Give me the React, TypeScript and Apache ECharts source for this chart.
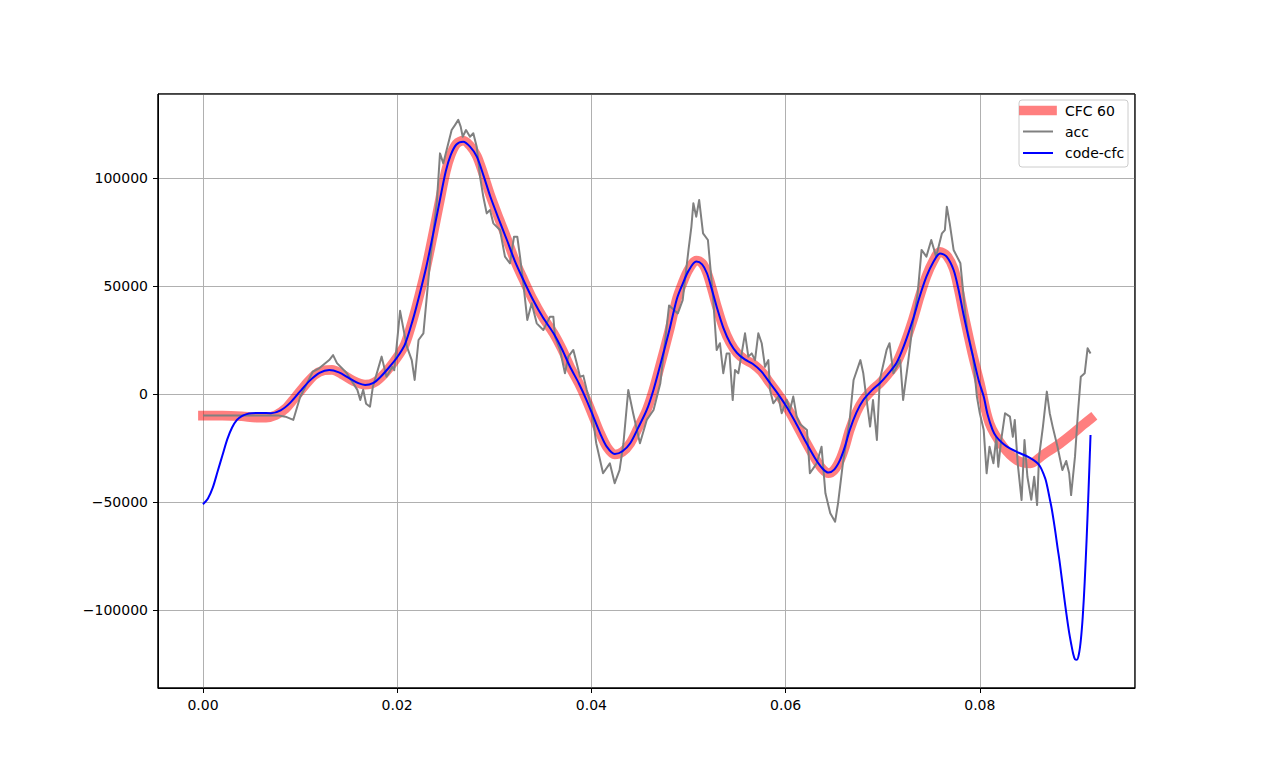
import React, { useEffect, useRef } from "react";
import * as echarts from "echarts";

const xTickFormat = (v: number) => v.toFixed(2);
const yTickFormat = (v: number) => (v < 0 ? "\u2212" + Math.abs(v) : String(v));

const seriesNames = ["CFC 60", "acc", "code-cfc"];

const cfcData: [number, number][] = [
  [0.0, -10000], [0.002, -10000], [0.004, -10300], [0.0055, -10900], [0.0065, -10900],
  [0.0075, -9800], [0.0085, -6800], [0.0095, -1500], [0.0105, 4000], [0.0115, 8800],
  [0.0125, 11000], [0.0133, 11200], [0.0143, 9200], [0.0155, 6000], [0.0167, 4300],
  [0.0177, 5500], [0.0188, 10000], [0.02, 17000], [0.0208, 23000], [0.0216, 34200],
  [0.0223, 46000], [0.023, 58900], [0.0237, 74000], [0.0244, 89800], [0.025, 103000],
  [0.0255, 110500], [0.0261, 115800], [0.0268, 117300], [0.0275, 115000], [0.0282, 110200],
  [0.0289, 101500], [0.0296, 91800], [0.0305, 81000], [0.0313, 71800], [0.0321, 62000],
  [0.033, 53000], [0.034, 43500], [0.035, 35500], [0.0361, 28100], [0.037, 20500],
  [0.0378, 12600], [0.0387, 5000], [0.0395, -2800], [0.0402, -10500], [0.0409, -18200],
  [0.0416, -24500], [0.0424, -28000], [0.0432, -26800], [0.044, -22800], [0.0448, -15800],
  [0.0457, -7400], [0.0464, 2000], [0.0471, 13500], [0.048, 29000], [0.0488, 44000],
  [0.0494, 51500], [0.05, 57500], [0.0508, 61800], [0.0514, 60500], [0.0519, 56300],
  [0.0524, 49000], [0.0529, 40800], [0.0536, 30800], [0.0543, 23700], [0.055, 19000],
  [0.0558, 16000], [0.0566, 14000], [0.0575, 10500], [0.0584, 5000], [0.0593, -500],
  [0.0601, -5900], [0.061, -13000], [0.062, -21500], [0.063, -29500], [0.0638, -34800],
  [0.0644, -36700], [0.065, -35200], [0.0656, -30600], [0.0661, -24500], [0.0666, -16700],
  [0.0673, -8500], [0.068, -2800], [0.0689, 1800], [0.0697, 5000], [0.0705, 9000],
  [0.0714, 14200], [0.0722, 22500], [0.0731, 34300], [0.0738, 45000], [0.0745, 54500],
  [0.0752, 61500], [0.0759, 65800], [0.0766, 64000], [0.0773, 58000], [0.0778, 49000],
  [0.0783, 38000], [0.0788, 27500], [0.0793, 17500], [0.08, 5000], [0.081, -13600],
  [0.0824, -24400], [0.0838, -30600], [0.0852, -32100], [0.0865, -28200], [0.0883, -22800],
  [0.0896, -18200], [0.0906, -14400], [0.0914, -11500],
];

const accData: [number, number][] = [
  [0.0, -10000], [0.004, -10000], [0.0078, -10000], [0.0085, -10500], [0.0093, -12000],
  [0.01, -1500], [0.0105, 3000], [0.0113, 10300], [0.012, 12000], [0.013, 15700],
  [0.0134, 18000], [0.0138, 14300], [0.0148, 9700], [0.0159, 1900], [0.0162, -2800],
  [0.0165, 2000], [0.0168, -4500], [0.0172, -5900], [0.0175, 3400], [0.0184, 17300],
  [0.0189, 8000], [0.0193, 11000], [0.0195, 12600], [0.0197, 11000], [0.0203, 38500],
  [0.0206, 31200], [0.021, 21900], [0.0215, 15700], [0.0218, 6500], [0.0222, 25000],
  [0.0227, 28100], [0.0234, 62000], [0.0241, 89800], [0.02441, 111400], [0.02475, 106800],
  [0.02526, 116000], [0.02561, 122200], [0.02595, 124500], [0.02629, 126900], [0.02654, 123800],
  [0.02675, 119100], [0.02709, 122200], [0.0275, 119100], [0.02784, 120700], [0.02819, 114500],
  [0.02853, 100600], [0.02887, 91300], [0.02922, 83600], [0.02956, 85200], [0.0299, 79000],
  [0.03059, 75900], [0.0311, 63600], [0.03162, 60500], [0.03203, 72800], [0.03237, 72800],
  [0.03265, 63600], [0.03299, 51200], [0.0334, 34300], [0.03385, 42000], [0.03437, 32700],
  [0.03505, 29600], [0.03574, 35800], [0.03608, 35800], [0.03625, 26500], [0.03677, 20400],
  [0.03728, 9600], [0.03762, 17300], [0.03814, 20400], [0.03849, 14200], [0.03883, 8000],
  [0.03917, 8500], [0.03952, 1900], [0.04, -5900], [0.0405, -22800],
  [0.0412, -36700], [0.0419, -32100], [0.0424, -41300], [0.0429, -35200], [0.0433, -22800],
  [0.0438, 1900], [0.0443, -8900], [0.045, -22800], [0.0457, -12000], [0.0464, -7400],
  [0.0471, 5000], [0.048, 41000], [0.0489, 37300], [0.0494, 43500], [0.05, 66700],
  [0.0503, 77500], [0.0505, 88300], [0.0508, 82100], [0.0511, 89800], [0.0515, 74400],
  [0.052, 71300], [0.05255, 43500], [0.0529, 20400], [0.05324, 23500], [0.05358, 9600],
  [0.05393, 18800], [0.05422, 18800], [0.05455, -2800], [0.05479, 11100], [0.05513, 9600],
  [0.0553, 14000], [0.05582, 28100], [0.05616, 17300], [0.05651, 18800], [0.05685, 15700],
  [0.05719, 28100], [0.05754, 23500], [0.05788, 12600], [0.05822, 15700], [0.0584, 1900],
  [0.05873, -4300], [0.05925, -1200], [0.0596, -8900], [0.06011, -2800], [0.06046, -7400],
  [0.06079, -1200], [0.06114, -10500], [0.0615, -14000], [0.0622, -16700], [0.0625, -36700],
  [0.0632, -32100], [0.0637, -24400], [0.0641, -46000], [0.0646, -55200], [0.0651, -59100],
  [0.0654, -50600], [0.0659, -32100], [0.0666, -12000], [0.067, 6500], [0.0677, 15700],
  [0.068, 9600], [0.0683, -1200], [0.0687, -15100], [0.069, -2800], [0.0694, -21300],
  [0.0697, 6500], [0.0704, 20400], [0.0707, 23500], [0.0711, 9600], [0.0718, 15700],
  [0.0721, -2800], [0.0726, 14200], [0.0731, 32700], [0.0736, 46600], [0.074, 66700],
  [0.0745, 63600], [0.075, 71300], [0.0755, 63600], [0.0761, 74400], [0.0764, 75900],
  [0.0766, 86700], [0.0769, 79000], [0.0773, 66700], [0.078, 60500], [0.0785, 37300],
  [0.0787, 30000], [0.0793, 17300], [0.0797, -1200], [0.08, -8900], [0.0804, -16700],
  [0.0807, -36700], [0.081, -24400], [0.0814, -32100], [0.0817, -19800], [0.0819, -33700],
  [0.0822, -21300], [0.0826, -8900], [0.0831, -10500], [0.0834, -19800], [0.0836, -12000],
  [0.0839, -32100], [0.0843, -49100], [0.0846, -21300], [0.0849, -38300], [0.0853, -49000],
  [0.0856, -38300], [0.0859, -51400], [0.0861, -29000], [0.0865, -15100], [0.0869, 1100],
  [0.0872, -8900], [0.0875, -15100], [0.088, -24400], [0.0885, -35200], [0.0889, -31000],
  [0.0892, -36700], [0.0894, -46800], [0.0898, -29000], [0.0901, -8900], [0.0904, 8000],
  [0.0908, 9600], [0.0911, 21200], [0.0914, 18800],
];

const codeCfcData: [number, number][] = [
  [0.0, -51000], [0.0005, -48500], [0.001, -43500], [0.0015, -36000], [0.002, -28500],
  [0.0025, -21000], [0.003, -15500], [0.0035, -12000], [0.004, -10200], [0.0045, -9300],
  [0.005, -8900], [0.006, -8800], [0.007, -8900], [0.008, -7600], [0.009, -4000],
  [0.01, 1200], [0.011, 6200], [0.012, 9800], [0.013, 11100], [0.014, 10000],
  [0.015, 7500], [0.016, 5000], [0.0167, 4200], [0.0175, 5000], [0.0183, 8000],
  [0.0192, 12500], [0.02, 17000], [0.0208, 23000], [0.0216, 34200], [0.0223, 46000],
  [0.023, 58900], [0.0237, 74000], [0.0244, 89800], [0.025, 103000], [0.0255, 110500],
  [0.0261, 115500], [0.0268, 116800], [0.0275, 114500], [0.0282, 109900], [0.0289, 101000],
  [0.0296, 91300], [0.0305, 80500], [0.0313, 71300], [0.0321, 61800], [0.033, 52800],
  [0.034, 43500], [0.035, 35500], [0.0361, 28100], [0.037, 20500], [0.0378, 12600],
  [0.0387, 5000], [0.0395, -2800], [0.0402, -10500], [0.0409, -18200], [0.0416, -24500],
  [0.0424, -27800], [0.0432, -26500], [0.044, -22800], [0.0448, -15800], [0.0457, -7400],
  [0.0464, 2000], [0.0471, 13500], [0.048, 29000], [0.0488, 44000], [0.0494, 51000],
  [0.05, 57000], [0.0508, 61300], [0.0514, 60000], [0.0519, 55900], [0.0524, 48500],
  [0.0529, 40400], [0.0536, 30500], [0.0543, 23500], [0.055, 19000], [0.0558, 16000],
  [0.0566, 14000], [0.0575, 10500], [0.0584, 5000], [0.0593, -500], [0.0601, -5900],
  [0.061, -13000], [0.062, -21500], [0.063, -29500], [0.0638, -34500], [0.0644, -36400],
  [0.065, -35000], [0.0656, -30600], [0.0661, -24500], [0.0666, -16700], [0.0673, -8500],
  [0.068, -2800], [0.0689, 1800], [0.0697, 5000], [0.0705, 9000], [0.0714, 14200],
  [0.0722, 22500], [0.0731, 34300], [0.0738, 45000], [0.0745, 54300], [0.0752, 61000],
  [0.0759, 65100], [0.0766, 63500], [0.0773, 57400], [0.0778, 48500], [0.0783, 37300],
  [0.0788, 27000], [0.0793, 17300], [0.0799, 6000], [0.0804, -1200], [0.0808, -9500],
  [0.0813, -16500], [0.0817, -19800], [0.0824, -23000], [0.0831, -25200], [0.084, -27200],
  [0.0848, -28700], [0.0855, -30500], [0.086, -32300], [0.0863, -34300], [0.0866, -37500],
  [0.0868, -40000], [0.087, -44000], [0.0872, -48500], [0.0874, -53000], [0.0876, -58500],
  [0.0878, -64500], [0.088, -71000], [0.0882, -77000], [0.0884, -84000], [0.0886, -91000],
  [0.0888, -98000], [0.089, -104500], [0.0892, -110500], [0.0894, -115500], [0.0896, -120000],
  [0.0898, -122800], [0.09, -123000], [0.0902, -120500], [0.0904, -114000], [0.0906, -103000],
  [0.0908, -87000], [0.091, -67000], [0.0912, -44000], [0.0914, -19000],
];

const FONT = "DejaVu Sans";

export default function App() {
  const ref = useRef<HTMLDivElement>(null);
  useEffect(() => {
    const chart = echarts.init(ref.current!, null, { renderer: "svg" });
    const legendX = 1019;
    const legendY = 100;
    const rows = [110.5, 131.5, 153];
    const legendStyles = [
      { stroke: "rgba(255,0,0,0.5)", lineWidth: 9.7, lineCap: "square" },
      { stroke: "#808080", lineWidth: 2, lineCap: "square" },
      { stroke: "#0000ff", lineWidth: 2, lineCap: "square" },
    ];
    const overlay: any[] = [
      {
        type: "rect",
        shape: { x: 158, y: 94, width: 977, height: 594 },
        style: { fill: "none", stroke: "#000", lineWidth: 1 },
        z: 90,
        silent: true,
      },
      {
        type: "rect",
        shape: { x: legendX, y: legendY, width: 109, height: 67, r: 3 },
        style: { fill: "rgba(255,255,255,0.8)", stroke: "#cccccc", lineWidth: 1 },
        z: 100,
      },
    ];
    seriesNames.forEach((name, i) => {
      overlay.push({
        type: "line",
        shape: { x1: 1024, y1: rows[i], x2: 1052, y2: rows[i] },
        style: legendStyles[i],
        z: 101,
      });
      overlay.push({
        type: "text",
        x: 1065,
        y: rows[i],
        style: {
          text: name,
          fill: "#000",
          font: `14px "${FONT}"`,
          verticalAlign: "middle",
          align: "left",
        },
        z: 101,
      });
    });

    chart.setOption({
      animation: false,
      backgroundColor: "#ffffff",
      grid: {
        left: 158,
        right: 126,
        top: 94,
        bottom: 85,
        show: true,
        borderColor: "#000",
        borderWidth: 1,
        backgroundColor: "transparent",
      },
      xAxis: {
        type: "value",
        min: -0.00463,
        max: 0.09598,
        splitNumber: 5,
        axisLine: { show: true, onZero: false, lineStyle: { color: "#000", width: 1 } },
        axisTick: { show: true, length: 5, lineStyle: { color: "#000", width: 1 } },
        axisLabel: {
          formatter: xTickFormat,
          color: "#000",
          fontSize: 14,
          fontFamily: FONT,
          margin: 10,
          showMinLabel: false,
          showMaxLabel: false,
        },
        splitLine: { show: true, lineStyle: { color: "#b0b0b0", width: 1 } },
      },
      yAxis: {
        type: "value",
        min: -136111,
        max: 138889,
        splitNumber: 5,
        axisLine: { show: true, onZero: false, lineStyle: { color: "#000", width: 1 } },
        axisTick: { show: true, length: 5, lineStyle: { color: "#000", width: 1 } },
        axisLabel: {
          formatter: yTickFormat,
          color: "#000",
          fontSize: 14,
          fontFamily: FONT,
          margin: 10,
          showMinLabel: false,
          showMaxLabel: false,
        },
        splitLine: { show: true, lineStyle: { color: "#b0b0b0", width: 1 } },
      },
      series: [
        {
          name: seriesNames[0],
          type: "line",
          data: cfcData,
          showSymbol: false,
          symbol: "none",
          smooth: 0.3,
          lineStyle: { color: "#ff0000", opacity: 0.5, width: 9.7, cap: "square", join: "round" },
          z: 2,
        },
        {
          name: seriesNames[1],
          type: "line",
          data: accData,
          showSymbol: false,
          symbol: "none",
          lineStyle: { color: "#808080", width: 2, join: "round" },
          z: 3,
        },
        {
          name: seriesNames[2],
          type: "line",
          data: codeCfcData,
          showSymbol: false,
          symbol: "none",
          smooth: 0.3,
          lineStyle: { color: "#0000ff", width: 2, join: "round" },
          z: 4,
        },
      ],
      graphic: overlay,
    });
    return () => chart.dispose();
  }, []);
  return (
    <div
      ref={ref}
      style={{ position: "fixed", left: 0, top: 0, width: 1261, height: 773, background: "#fff" }}
    />
  );
}
